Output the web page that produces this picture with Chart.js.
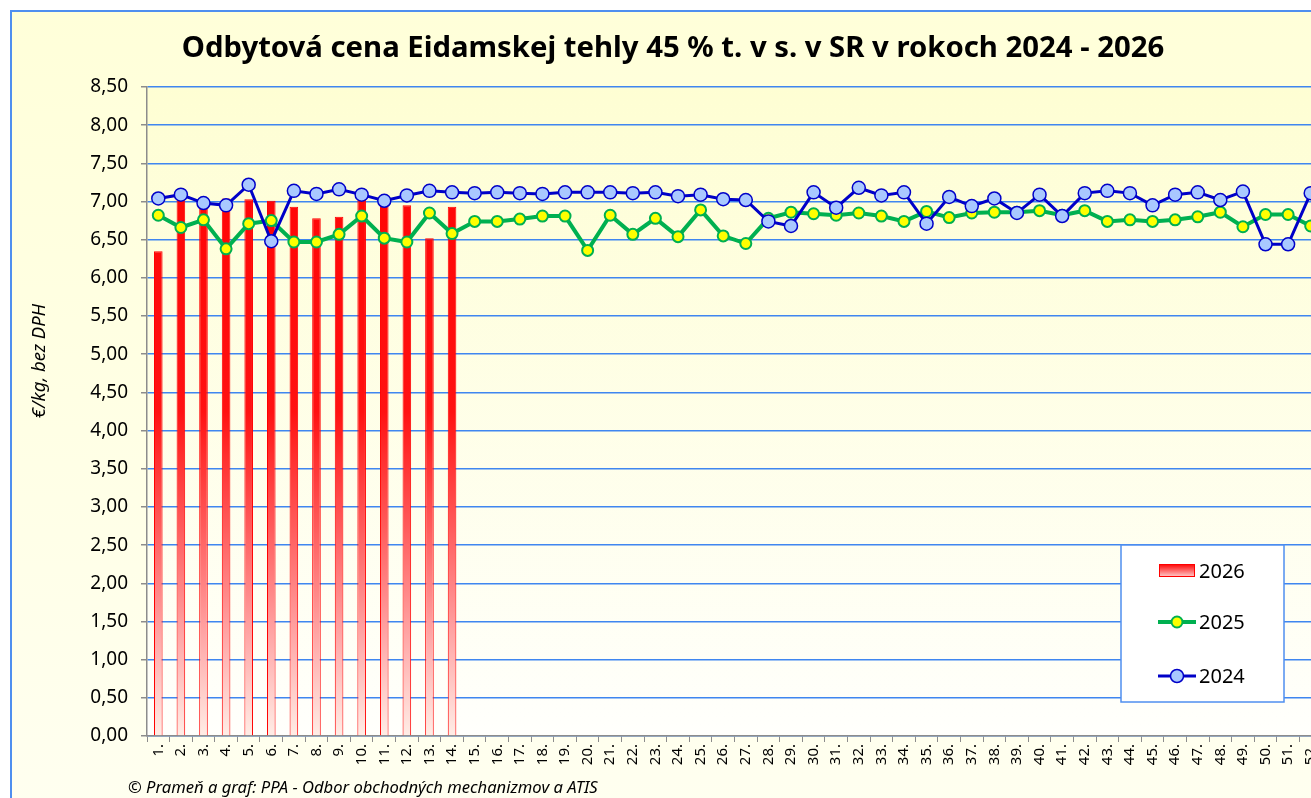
<!DOCTYPE html>
<html><head><meta charset="utf-8">
<script src="https://cdn.jsdelivr.net/npm/chart.js@4.4.1/dist/chart.umd.min.js"></script>
<style>
html,body{margin:0;padding:0;background:#fff;overflow:hidden;width:1311px;height:798px;font-family:"Noto Sans",sans-serif;}
#box{position:absolute;left:10px;top:10px;width:1324px;height:800px;border:2px solid #4F8FEF;background:linear-gradient(#FFFFD9,#FFFFF0);}
#c{position:absolute;left:0;top:0;}
#ytitle{position:absolute;left:-74px;top:338px;width:200px;height:22px;line-height:22px;text-align:center;transform:rotate(-90deg);font-style:italic;font-size:18.5px;color:#000;white-space:nowrap;}
#foot{position:absolute;left:116px;top:765px;font-style:italic;font-size:16.6px;line-height:20px;color:#000;white-space:nowrap;}
</style></head>
<body>
<div id="box">
<canvas id="c" width="1322" height="800"></canvas>
<div id="ytitle">€/kg, bez DPH</div>
<div id="foot">© Prameň a graf: PPA - Odbor obchodných mechanizmov a ATIS</div>
</div>
<script>
const TITLE = "Odbytová cena Eidamskej tehly 45 % t. v s. v SR v rokoch 2024 - 2026";
const weeks = [];
for (let i = 1; i <= 52; i++) weeks.push(i + ".");
const y2026 = [6.35, 7.16, 6.97, 7.04, 7.03, 7.01, 6.93, 6.78, 6.80, 7.05, 7.00, 6.95, 6.52, 6.93];
const y2025 = [6.82, 6.66, 6.76, 6.38, 6.71, 6.75, 6.47, 6.47, 6.57, 6.81, 6.52, 6.47, 6.85, 6.58,
  6.74, 6.74, 6.77, 6.81, 6.81, 6.36, 6.82, 6.57, 6.78, 6.54, 6.89, 6.55, 6.45, 6.78, 6.86,
  6.84, 6.82, 6.85, 6.81, 6.74, 6.87, 6.79, 6.85, 6.86, 6.86, 6.88,
  6.82, 6.88, 6.74, 6.76, 6.74, 6.76, 6.80, 6.86, 6.67, 6.83, 6.83, 6.68];
const y2024 = [7.04, 7.09, 6.98, 6.95, 7.22, 6.48, 7.14, 7.10, 7.16, 7.09, 7.01, 7.08, 7.14, 7.12,
  7.11, 7.12, 7.11, 7.10, 7.12, 7.12, 7.12, 7.11, 7.12, 7.07, 7.09, 7.03, 7.02, 6.74, 6.68,
  7.12, 6.92, 7.18, 7.08, 7.12, 6.71, 7.06, 6.94, 7.04, 6.85, 7.09,
  6.81, 7.11, 7.14, 7.11, 6.95, 7.09, 7.12, 7.02, 7.13, 6.44, 6.44, 7.11];
const seriesNames = ["2026", "2025", "2024"];

Chart.defaults.font.family = '"Noto Sans", sans-serif';
Chart.defaults.color = '#000';

const canvas = document.getElementById('c');
const cctx = canvas.getContext('2d');

// fit title font size to target width
const mctx = document.createElement('canvas').getContext('2d');
mctx.font = 'bold 100px "Noto Sans"';
const titleSize = Math.round(100 * 983 / mctx.measureText(TITLE).width * 10) / 10;

// vertical gradient over the plot area (canvas y 75..724)
const barGrad = cctx.createLinearGradient(0, 75, 0, 724);
barGrad.addColorStop(0, '#FF0000');
barGrad.addColorStop(0.5, '#FF1212');
barGrad.addColorStop(0.68, '#FF5C5C');
barGrad.addColorStop(0.85, '#FFA8A8');
barGrad.addColorStop(1, '#FFEDE6');

const bgPlugin = {
  id: 'plotBg',
  beforeDraw(chart) {
    const {ctx, chartArea: ca} = chart;
    const g = ctx.createLinearGradient(0, ca.top, 0, ca.bottom);
    g.addColorStop(0, '#FEFED3');
    g.addColorStop(1, '#FFFFFC');
    ctx.save();
    ctx.fillStyle = g;
    ctx.fillRect(ca.left, ca.top, ca.right - ca.left, ca.bottom - ca.top);
    ctx.restore();
  }
};

const legendPlugin = {
  id: 'boxLegend',
  afterDraw(chart) {
    const ctx = chart.ctx;
    ctx.save();
    ctx.fillStyle = '#FFFFFF';
    ctx.fillRect(1109, 533, 163, 157);
    ctx.strokeStyle = '#4F8FEF';
    ctx.lineWidth = 1.5;
    ctx.strokeRect(1109, 533, 163, 157);
    ctx.font = '20px "Noto Sans"';
    ctx.textBaseline = 'middle';
    // 2026 swatch
    const g = ctx.createLinearGradient(0, 552, 0, 565);
    g.addColorStop(0, '#FF0000');
    g.addColorStop(1, '#FFD0D0');
    ctx.fillStyle = g;
    ctx.fillRect(1147, 552, 36, 13);
    ctx.strokeStyle = '#FF0000';
    ctx.lineWidth = 1;
    ctx.strokeRect(1147.5, 552.5, 35, 12);
    ctx.fillStyle = '#000';
    ctx.fillText(seriesNames[0], 1187, 560);
    // 2025
    ctx.strokeStyle = '#00B050';
    ctx.lineWidth = 4;
    ctx.beginPath(); ctx.moveTo(1146, 610); ctx.lineTo(1184, 610); ctx.stroke();
    ctx.beginPath(); ctx.arc(1165, 610, 5.5, 0, Math.PI * 2);
    ctx.fillStyle = '#FFFF00'; ctx.fill();
    ctx.lineWidth = 2; ctx.stroke();
    ctx.fillStyle = '#000';
    ctx.fillText(seriesNames[1], 1187, 611);
    // 2024
    ctx.strokeStyle = '#0000C8';
    ctx.lineWidth = 3;
    ctx.beginPath(); ctx.moveTo(1146, 664); ctx.lineTo(1184, 664); ctx.stroke();
    ctx.beginPath(); ctx.arc(1165, 664, 6.5, 0, Math.PI * 2);
    ctx.fillStyle = '#A9C8FF'; ctx.fill();
    ctx.lineWidth = 1.5; ctx.stroke();
    ctx.fillStyle = '#000';
    ctx.fillText(seriesNames[2], 1187, 665);
    ctx.restore();
  }
};

const padTop = 37 - 0.6 * titleSize;
const padBottom = 75 - padTop - 1.2 * titleSize;

new Chart(canvas, {
  type: 'bar',
  data: {
    labels: weeks,
    datasets: [
      {type: 'bar', label: seriesNames[0], data: y2026, backgroundColor: barGrad, borderColor: '#FF0000',
       borderWidth: 1, barPercentage: 0.38, categoryPercentage: 1, order: 3},
      {type: 'line', label: seriesNames[1], data: y2025, borderColor: '#00B050', borderWidth: 4, tension: 0,
       pointRadius: 5.5, pointBackgroundColor: '#FFFF00', pointBorderColor: '#00B050', pointBorderWidth: 2, order: 2},
      {type: 'line', label: seriesNames[2], data: y2024, borderColor: '#0000C8', borderWidth: 3, tension: 0,
       pointRadius: 6.5, pointBackgroundColor: '#A9C8FF', pointBorderColor: '#0000C8', pointBorderWidth: 1.5, order: 1}
    ]
  },
  options: {
    responsive: false, animation: false, devicePixelRatio: 1,
    layout: {padding: {left: 12, right: 12, top: 0, bottom: 26}},
    plugins: {
      legend: {display: false},
      tooltip: {enabled: false},
      title: {display: true, text: TITLE, color: '#000',
        font: {size: titleSize, weight: 'bold', lineHeight: 1.2},
        padding: {top: padTop, bottom: padBottom}}
    },
    scales: {
      x: {
        offset: true,
        grid: {offset: true, drawOnChartArea: false, drawTicks: true, tickLength: 6, color: '#8C8C8C'},
        border: {color: '#8C8C8C', width: 1.5},
        ticks: {autoSkip: false, minRotation: 90, maxRotation: 90, padding: 2, font: {size: 15}},
        afterFit(s) { s.height = 50; }
      },
      y: {
        min: 0, max: 8.5,
        ticks: {stepSize: 0.5, padding: 13, font: {size: 19},
          callback: v => Number(v).toFixed(2).replace('.', ',')},
        grid: {color: '#3F86F0', lineWidth: 1.5, tickColor: '#8C8C8C', tickLength: 6},
        border: {color: '#8C8C8C', width: 1.5},
        afterFit(s) { s.width = 123; }
      }
    }
  },
  plugins: [bgPlugin, legendPlugin]
});
</script>
</body></html>
